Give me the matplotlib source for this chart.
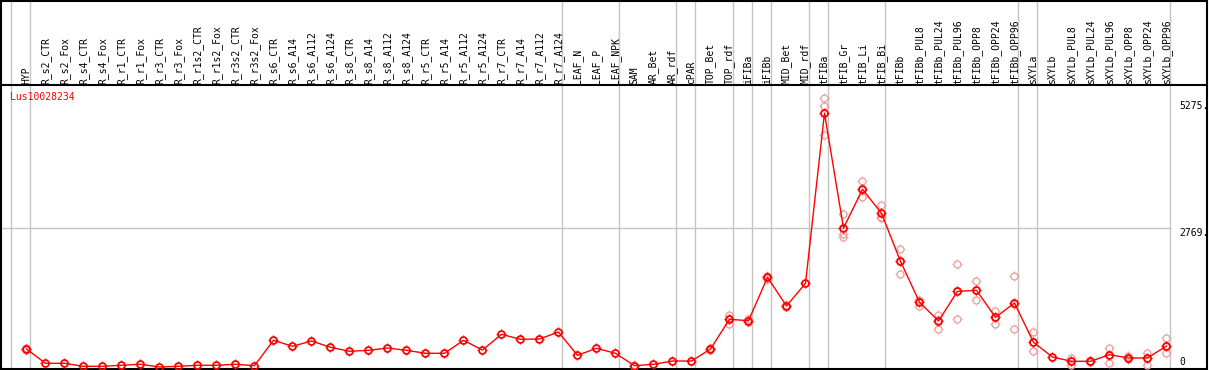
import numpy as np
import matplotlib
matplotlib.use("Agg")
import matplotlib.pyplot as plt
import matplotlib.transforms as mtransforms
from matplotlib.path import Path

gene = "Lus10028234"

samples = ["HYP", "R_s2_CTR", "R_s2_Fox", "R_s4_CTR", "R_s4_Fox", "R_r1_CTR", "R_r1_Fox",
           "R_r3_CTR", "R_r3_Fox", "R_r1s2_CTR", "R_r1s2_Fox", "R_r3s2_CTR", "R_r3s2_Fox",
           "R_s6_CTR", "R_s6_A14", "R_s6_A112", "R_s6_A124", "R_s8_CTR", "R_s8_A14",
           "R_s8_A112", "R_s8_A124", "R_r5_CTR", "R_r5_A14", "R_r5_A112", "R_r5_A124",
           "R_r7_CTR", "R_r7_A14", "R_r7_A112", "R_r7_A124", "LEAF_N", "LEAF_P", "LEAF_NPK",
           "SAM", "AR_Bet", "AR_rdf", "cPAR", "TOP_Bet", "TOP_rdf", "iFIBa", "iFIBb",
           "MID_Bet", "MID_rdf", "tFIBa", "tFIB_Gr", "tFIB_Li", "tFIB_Bi", "tFIBb",
           "tFIBb_PUL8", "tFIBb_PUL24", "tFIBb_PUL96", "tFIBb_OPP8", "tFIBb_OPP24",
           "tFIBb_OPP96", "sXYLa", "sXYLb", "sXYLb_PUL8", "sXYLb_PUL24", "sXYLb_PUL96",
           "sXYLb_OPP8", "sXYLb_OPP24", "sXYLb_OPP96"]

means = [367, 83, 83, 24, 24, 44, 64, 10, 24, 44, 44, 64, 36,
         540, 421, 526, 401, 322, 341, 387, 341, 282, 282, 540, 347,
         659, 560, 566, 705, 242, 381, 282,
         36, 64, 129, 129, 367, 957, 929, 1790, 1221, 1671,
         5050, 2766, 3538, 3060, 2108, 1296, 923, 1512, 1532, 996, 1280,
         500, 208, 123, 123, 254, 189, 189, 427]

# replicate measurements (sample index -> values)
replicates = {
    0: [340, 367, 394],
    32: [20, 36, 52],
    36: [340, 367, 394],
    37: [863, 957, 1050],
    38: [900, 929, 958],
    39: [1760, 1790, 1820],
    40: [1200, 1221, 1242],
    42: [5350, 5191, 4609],
    43: [3053, 2650, 2596],
    44: [3702, 3390, 3523],
    45: [3220, 2974, 2987],
    46: [2346, 2122, 1856],
    47: [1346, 1320, 1221],
    48: [1048, 951, 770],
    49: [2049, 1519, 969],
    50: [1711, 1538, 1346],
    51: [1127, 998, 863],
    52: [1816, 1260, 764],
    53: [705, 500, 322],
    55: [194, 123, 43],
    56: [110, 123, 136],
    57: [387, 254, 89],
    58: [228, 189, 163],
    59: [288, 189, 56],
    60: [580, 427, 282],
}

group_ends = [-1, 0, 28, 31, 34, 35, 37, 38, 39, 41, 42, 45, 52, 53, 60]
ytick_values = [0, 2769, 5275]
ytick_labels = ["0", "2769.", "5275."]
grid_values = [2769]

W, H = 1209, 370
fig = plt.figure(figsize=(W / 100, H / 100), dpi=100)
L, R, T, B = 1.0, 1206.5, 1.0, 368.7
ax = fig.add_axes([L / W, 1 - B / H, (R - L) / W, (B - T) / H])
x0px, dx = 26.5, 19.0
y0px, upp = 367.5, 19.85  # units per pixel
ax.set_xlim((L - x0px) / dx, (R - x0px) / dx)
ax.set_ylim((y0px - B) * upp, (y0px - T) * upp)
ax.set_xticks([])
ax.set_yticks([])
for s in ax.spines.values():
    s.set_linewidth(1.5)
    s.set_color("black")

def ax_y(py):
    return 1 - (py - T) / (B - T)

mono = "DejaVu Sans Mono"
grid_c = "#c4c4c4"

# vertical group separators
for g in group_ends:
    ax.axvline(g + 0.21, color=grid_c, lw=1.0, zorder=0)
# horizontal grid
for gv in grid_values:
    ax.plot([ax.get_xlim()[0], group_ends[-1] + 0.21], [gv, gv], color=grid_c, lw=1.0, zorder=0)

# header separator
ax.plot([0, 1], [ax_y(85.3), ax_y(85.3)], transform=ax.transAxes, color="black", lw=1.5, zorder=3)

# sample labels
btrans = mtransforms.blended_transform_factory(ax.transData, ax.transAxes)
for i, s in enumerate(samples):
    ax.text(i, ax_y(83.6), s, rotation=90, ha="center", va="bottom", transform=btrans,
            fontsize=7, family=mono, color="black")

# gene label
ax.text((10 - x0px) / dx, ax_y(97), gene, ha="left", va="center", transform=btrans,
        fontsize=7, family=mono, color="red")

# y tick labels
xlab = (1179 - x0px) / dx
for v, lab in zip(ytick_values, ytick_labels):
    off = 5.8 if v == 0 else -4.7
    ax.annotate(lab, xy=(xlab, v), xytext=(0, off), textcoords="offset pixels",
                ha="left", va="center", fontsize=7, family=mono, color="black")

# custom tick marker around circles
tverts = [(0, 0.7), (0, 1), (0, -0.7), (0, -1), (0.7, 0), (1, 0), (-0.7, 0), (-1, 0)]
tcodes = [Path.MOVETO, Path.LINETO] * 4
tickmark = Path(tverts, tcodes)

pink = "#f0a0a0"
for i, vals in replicates.items():
    xs = [i] * len(vals)
    ax.plot(xs, vals, ls="none", marker="o", ms=5, mfc="none", mec=pink, mew=1.0, zorder=4)
    ax.plot(xs, vals, ls="none", marker=tickmark, ms=7.5, mec=pink, mew=0.8, zorder=4)

x = np.arange(len(samples))
ax.plot(x, means, color="red", lw=1.0, zorder=5)
ax.plot(x, means, ls="none", marker="o", ms=5, mfc="none", mec="red", mew=1.3, zorder=6)
ax.plot(x, means, ls="none", marker=tickmark, ms=7.5, mec="red", mew=0.9, zorder=6)

fig.savefig("out.png", dpi=100)
